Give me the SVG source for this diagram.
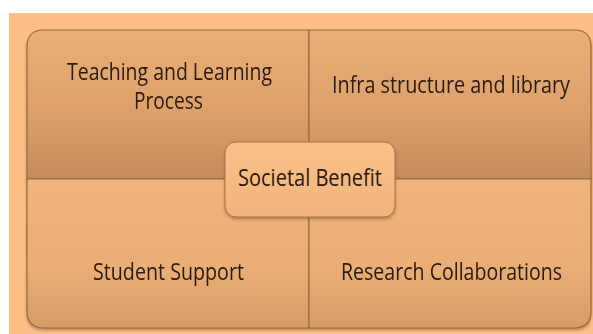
<svg xmlns="http://www.w3.org/2000/svg" width="593" height="334" viewBox="0 0 593 334">
<defs>
<linearGradient id="gTop" x1="0" y1="0" x2="0" y2="1">
<stop offset="0" stop-color="#EAAE76"/>
<stop offset="0.55" stop-color="#DDA06A"/>
<stop offset="1" stop-color="#C48B5B"/>
</linearGradient>
<linearGradient id="gBot" x1="0" y1="0" x2="0" y2="1">
<stop offset="0" stop-color="#F1B47B"/>
<stop offset="0.6" stop-color="#EAAD75"/>
<stop offset="1" stop-color="#D69C67"/>
</linearGradient>
<linearGradient id="gCen" x1="0" y1="0" x2="0" y2="1">
<stop offset="0" stop-color="#FBC18A"/>
<stop offset="1" stop-color="#F2B37B"/>
</linearGradient>
<filter id="sh" x="-10%" y="-10%" width="120%" height="130%">
<feDropShadow dx="0" dy="2" stdDeviation="1.6" flood-color="#6B4522" flood-opacity="0.45"/>
</filter>
</defs>
<style>
.q{stroke:#9A6A40;stroke-width:1.2}
.t{font-family:"Open Sans","Liberation Sans",sans-serif;font-size:23px;fill:#2A1A10;text-anchor:middle}
</style>
<rect x="0" y="0" width="593" height="334" fill="#FFFFFF"/>
<rect x="9" y="13" width="584" height="321" fill="#FEBF86"/>
<g id="connectors"/>
<g filter="url(#sh)">
<g id="teaching">
<path class="q" d="M27,179 V47 Q27,30 44,30 H309 V179 Z" fill="url(#gTop)"/>
<text class="t" x="169.5" y="80" textLength="205" lengthAdjust="spacingAndGlyphs">Teaching and Learning</text>
<text class="t" x="168.5" y="109" textLength="69" lengthAdjust="spacingAndGlyphs">Process</text>
</g>
<g id="infra">
<path class="q" d="M309,30 H574 Q591,30 591,47 V179 H309 Z" fill="url(#gTop)"/>
<text class="t" x="451" y="93" textLength="238" lengthAdjust="spacingAndGlyphs">Infra structure and library</text>
</g>
<g id="student">
<path class="q" d="M27,179 H309 V328 H44 Q27,328 27,311 Z" fill="url(#gBot)"/>
<text class="t" x="168.5" y="280" textLength="151" lengthAdjust="spacingAndGlyphs">Student Support</text>
</g>
<g id="research">
<path class="q" d="M309,179 H591 V311 Q591,328 574,328 H309 Z" fill="url(#gBot)"/>
<text class="t" x="451.5" y="280" textLength="221" lengthAdjust="spacingAndGlyphs">Research Collaborations</text>
</g>
</g>
<g id="societal">
<rect x="225" y="142" width="170" height="75" rx="11" ry="11" fill="url(#gCen)" stroke="#A87448" stroke-width="1" filter="url(#sh)"/>
<text class="t" x="310" y="186" textLength="144" lengthAdjust="spacingAndGlyphs">Societal Benefit</text>
</g>
</svg>
